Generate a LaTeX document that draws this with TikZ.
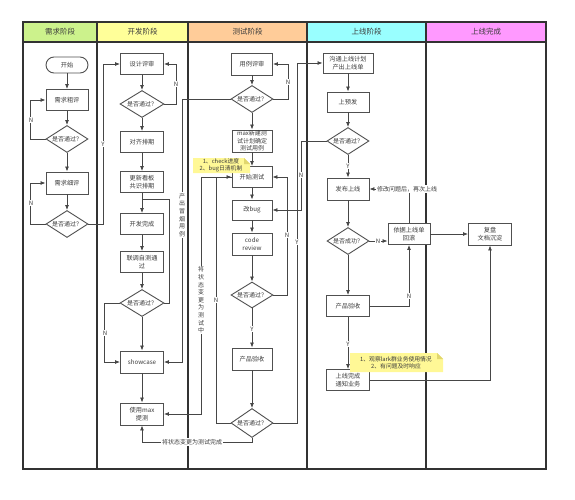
\documentclass[tikz,border=0pt]{standalone}
\usepackage{fontspec}
\newfontfamily\cjk{Noto Sans CJK SC}
\usetikzlibrary{arrows.meta,shapes.geometric}
\definecolor{hgreen}{RGB}{204,242,140}
\definecolor{hyellow}{RGB}{255,255,153}
\definecolor{horange}{RGB}{255,204,153}
\definecolor{hcyan}{RGB}{153,255,255}
\definecolor{hpink}{RGB}{255,153,255}
\definecolor{lanec}{RGB}{50,50,50}
\definecolor{linec}{RGB}{70,70,70}
\definecolor{boxc}{RGB}{80,80,80}
\definecolor{txtc}{RGB}{60,60,60}
\definecolor{notec}{RGB}{255,248,150}
\definecolor{notefold}{RGB}{225,215,110}
\begin{document}
\begin{tikzpicture}[x=1pt,y=-1pt,
  box/.style={draw=boxc,line width=0.9pt,fill=white,minimum width=42pt,minimum height=21pt,inner sep=1pt,align=center,font=\cjk\fontsize{6.2}{7.5}\selectfont,text=txtc},
  dia/.style={diamond,draw=boxc,line width=0.9pt,fill=white,minimum width=42pt,minimum height=27pt,inner sep=0pt,aspect=1.55,font=\cjk\fontsize{6}{7}\selectfont,text=txtc},
  conn/.style={draw=linec,line width=0.8pt},
  arr/.style={conn,-{Latex[length=5pt,width=4pt]}},
  lab/.style={fill=white,inner sep=0.8pt,font=\cjk\fontsize{6}{7}\selectfont,text=txtc},
  vlab/.style={fill=white,inner sep=0.8pt,align=center,font=\cjk\fontsize{6}{7.6}\selectfont,text=txtc},
  head/.style={font=\cjk\fontsize{7.5}{9}\selectfont,text=txtc},
  notetext/.style={align=center,inner sep=0pt,font=\cjk\fontsize{5.8}{7.2}\selectfont,text=txtc}
]
\useasboundingbox (0,0) rectangle (575,500);
% lanes
\fill[hgreen] (23,22) rectangle (97,42);
\fill[hyellow] (97,22) rectangle (188,42);
\fill[horange] (188,22) rectangle (307,42);
\fill[hcyan] (307,22) rectangle (426,42);
\fill[hpink] (426,22) rectangle (546,42);
\draw[lanec,line width=1.2pt] (23,22) rectangle (546,469);
\draw[lanec,line width=1.2pt] (23,42) -- (546,42);
\foreach \xx in {97,188,307,426} \draw[lanec,line width=1.2pt] (\xx,22) -- (\xx,469);
\node[head] (h1) at (60,32) {需求阶段};
\node[head] (h2) at (142.5,32) {开发阶段};
\node[head] (h3) at (247.5,32) {测试阶段};
\node[head] (h4) at (366.5,32) {上线阶段};
\node[head] (h5) at (486,32) {上线完成};
% lane 1
\node[box,minimum height=16pt,rounded corners=8pt] (st) at (67,65) {开始};
\node[box] (r1) at (67,100) {需求粗评};
\node[dia] (d1) at (67,139) {是否通过？};
\node[box,minimum height=22pt] (r2) at (67,183) {需求细评};
\node[dia] (d2) at (67,224) {是否通过？};
% lane 2
\node[box,minimum width=43pt] (sj) at (142,64) {设计评审};
\node[dia,minimum width=44pt] (d3) at (142,104) {是否通过？};
\node[box,minimum width=43pt] (dq) at (142,142) {对齐排期};
\node[box,minimum width=43pt] (gx) at (142,182) {更新看板\\共识排期};
\node[box,minimum width=43pt] (kf) at (142,224) {开发完成};
\node[box,minimum width=43pt] (lt) at (142,262) {联调自测通\\过};
\node[dia,minimum width=44pt] (d4) at (142,303) {是否通过？};
\node[box,minimum width=43pt,minimum height=22pt] (sc) at (142,362) {showcase};
\node[box,minimum width=43pt,minimum height=22pt] (tc) at (142,414) {使用max\\提测};
% lane 3
\node[box,minimum width=41pt,minimum height=22pt] (yl) at (252,64) {用例评审};
\node[dia] (d5) at (252,99) {是否通过？};
\node[box,minimum width=40pt,minimum height=22pt,inner sep=0pt,font=\cjk\fontsize{6}{7.4}\selectfont] (mx) at (252,141) {max新建测\\试计划确定\\测试用例};
\node[box,minimum width=40pt] (ks) at (252,177) {开始测试};
\node[box,minimum width=40pt,minimum height=20pt] (gb) at (252,210) {改bug};
\node[box,minimum width=40pt,minimum height=22pt] (cr) at (252,244) {code\\review};
\node[dia,minimum height=26pt] (d6) at (252,295) {是否通过？};
\node[box,minimum width=40pt,minimum height=22pt] (cy) at (252,359) {产品验收};
\node[dia,minimum height=29pt] (d7) at (252,423) {是否通过？};
% lane 4
\node[box,minimum width=50pt,minimum height=20pt] (gt) at (348,63) {沟通上线计划\\产出上线单};
\node[box,minimum height=20pt] (yf) at (348,102) {上预发};
\node[dia] (d8) at (348,141) {是否通过？};
\node[box,minimum height=22pt] (fb) at (348,189) {发布上线};
\node[dia] (d9) at (348,241) {是否成功？};
\node[box] (hg) at (409,234) {依据上线单\\回滚};
\node[box,minimum width=43pt] (cy2) at (348,306) {产品验收};
\node[box,minimum width=43pt] (wc) at (348,380) {上线完成\\通知业务};
% lane 5
\node[box,minimum width=43pt,minimum height=22pt] (fp) at (490,234) {复盘\\文档沉淀};
% connectors lane 1
\draw[arr] (st) -- (r1);
\draw[arr] (r1) -- (d1);
\draw[arr] (d1) -- (r2);
\draw[arr] (d1.west) -- ++(-15,0) |- (r1.west);
\draw[arr] (r2) -- (d2);
\draw[arr] (d2.west) -- ++(-15,0) |- (r2.west);
\draw[arr] (d2.east) -- ++(15,0) |- (sj.west);
% lane 2
\draw[arr] (sj) -- (d3);
\draw[arr] (d3.east) -- ++(12,0) |- (sj.east);
\draw[arr] (d3) -- (dq);
\draw[arr] (dq) -- (gx);
\draw[arr] (gx) -- (kf);
\draw[arr] (kf) -- (lt);
\draw[arr] (lt) -- (d4);
\coordinate (j1) at (142,199);
\draw[conn] (d4.east) -- ++(5,0) |- (j1);
\draw[arr] (d4.west) -- ++(-15,0) |- (sc.west);
\draw[arr] (d4) -- (sc);
\draw[arr] (sc) -- (tc);
\draw[arr] (d5.west) -- (182,99) |- (sc.east);
% lane 3
\draw[arr] (yl) -- (d5);
\draw[arr] (d5.east) -- (288,99) |- (yl.east);
\draw[arr] (d5) -- (mx);
\draw[arr] (mx) -- (ks);
\draw[arr] (ks) -- (gb);
\draw[arr] (gb) -- (cr);
\draw[arr] (cr) -- (d6);
\draw[arr] (ks.west) -- (201,177) |- (tc.east);
\draw[arr] (d7.west) -- (216,423) |- (ks.west);
\draw[arr] (d6.east) -- (287,295) |- (ks.east);
\draw[arr] (d6) -- (cy);
\draw[arr] (cy) -- (d7);
\draw[arr] (d7.south) -- (252,442) -| (tc.south);
\draw[arr] (d7.east) -- (297,423) |- (gt.west);
\draw[arr] (d8.west) -- (301,141) |- (gb.east);
% lane 4
\draw[arr] (gt) -- (yf);
\draw[arr] (yf) -- (d8);
\draw[arr] (d8) -- (fb);
\draw[arr] (fb) -- (d9);
\draw[arr] (d9.east) -- (d9.east -| hg.west);
\draw[arr] (d9) -- (cy2);
\draw[arr] (cy2.east) -| (hg.south);
\draw[arr] (cy2) -- (wc);
\draw[arr] (hg.north) |- (fb.east);
\draw[arr] (hg) -- (fp);
\draw[arr] (wc.east) -| (fp.south);
% labels
\node[lab] (l1) at (31,120) {N};
\node[lab] (l2) at (31,203) {N};
\node[lab] (l3) at (103,144) {Y};
\node[lab] (l4) at (176,84) {N};
\node[lab] (l5) at (105,333) {N};
\node[vlab] (l6) at (182,215) {产\\出\\冒\\烟\\用\\例};
\node[lab] (l7) at (288,82) {N};
\node[vlab] (l8) at (201,300) {将\\状\\态\\变\\更\\为\\测\\试\\中};
\node[lab] (l9) at (216,300) {N};
\node[lab] (l10) at (287,235) {N};
\node[lab] (l11) at (252,329) {Y};
\node[lab] (l12) at (192,442) {将状态变更为测试完成};
\node[lab] (l13) at (297,242) {Y};
\node[lab] (l14) at (301,175) {N};
\node[lab] (l15) at (348,166) {Y};
\node[lab] (l16) at (378,241) {N};
\node[lab] (l17) at (409,296) {N};
\node[lab] (l18) at (348,344) {Y};
\node[lab] (l19) at (407,189) {修改问题后，再次上线};
% notes
\fill[notec] (193,158) -- (244,158) -- (250,164) -- (250,173) -- (193,173) -- cycle;
\fill[notefold] (244,158) -- (250,164) -- (244,164) -- cycle;
\node[notetext] (n1) at (221,165.5) {1、check进度\\2、bug日清机制};
\fill[notec] (350,353) -- (437,353) -- (443,359) -- (443,372) -- (350,372) -- cycle;
\fill[notefold] (437,353) -- (443,359) -- (437,359) -- cycle;
\node[notetext] (n2) at (396,362.5) {1、观察lark群业务使用情况\\2、有问题及时响应};
\end{tikzpicture}
\end{document}
